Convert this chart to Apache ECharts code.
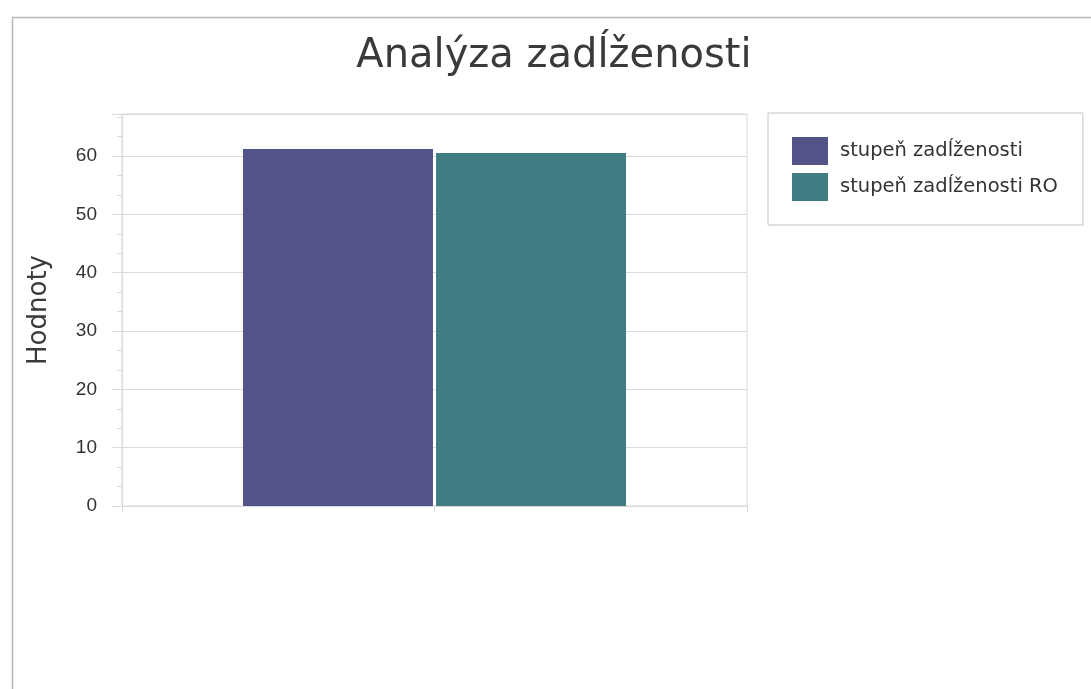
<!DOCTYPE html>
<html>
<head>
<meta charset="utf-8">
<script src="https://cdn.jsdelivr.net/npm/echarts@6/dist/echarts.min.js"></script>
<style>
  html, body { margin: 0; padding: 0; background: #fff; }
  #c_container { width: 1091px; height: 689px; }
</style>
</head>
<body>
<div id="c_container"></div>
<script>
var categories = [""];
var series_names = ["stupeň zadĺženosti", "stupeň zadĺženosti RO"];
var debt_ratio = [61.2];
var debt_ratio_ro = [60.5];
var colorList = ["#525386", "#407d82"];
var font_size = 19;

var myChart = echarts.init(document.getElementById("c_container"));

myChart.setOption({
  animation: false,
  color: colorList,
  title: {
    text: "Analýza zadĺženosti",
    left: 549,
    top: 32,
    textAlign: "center",
    textStyle: {
      fontFamily: "DejaVu Sans",
      fontSize: 40,
      fontWeight: "normal",
      color: "#3a3a3a",
    },
  },
  graphic: [
    {
      type: "rect",
      left: 10,
      top: 15,
      shape: { width: 1200, height: 800 },
      style: { fill: "none", stroke: "#b8b8b8", lineWidth: 1.5 },
      silent: true,
    },
  ],
  legend: {
    data: series_names,
    orient: "vertical",
    left: 768,
    top: 113,
    padding: [24, 25, 24, 24],
    itemGap: 8,
    itemWidth: 36,
    itemHeight: 28,
    borderColor: "#c4c4c4",
    borderWidth: 1,
    icon: "rect",
    textStyle: {
      fontFamily: "DejaVu Sans",
      fontSize: 19.5,
      color: "#333",
      padding: [0, 0, 0, 7],
    },
  },
  grid: {
    left: 122,
    top: 114,
    right: 344,
    bottom: 183,
    show: true,
    borderColor: "#d9d9d9",
    borderWidth: 1,
  },
  xAxis: [
    {
      type: "category",
      data: categories,
      axisLine: { lineStyle: { color: "#d9d9d9" } },
      axisTick: { show: false },
      axisLabel: { show: false },
    },
    {
      // only for the tick marks under the plot
      type: "category",
      position: "bottom",
      data: ["", ""],
      axisLine: { show: false },
      axisTick: { show: true, length: 6, lineStyle: { color: "#d9d9d9" } },
      axisLabel: { show: false },
    },
  ],
  yAxis: [
    {
      type: "value",
      name: "Hodnoty",
      nameLocation: "middle",
      nameGap: 70,
      nameTextStyle: {
        fontFamily: "DejaVu Sans",
        fontSize: 26,
        color: "#3a3a3a",
      },
      min: 0,
      max: 67.2,
      interval: 10,
      axisLine: { show: true, lineStyle: { color: "#d9d9d9" } },
      axisTick: { show: true, length: 10, lineStyle: { color: "#d9d9d9" } },
      minorTick: { show: true, splitNumber: 3, length: 5, lineStyle: { color: "#d9d9d9" } },
      splitLine: { show: true, lineStyle: { color: "#d9d9d9" } },
      axisLabel: {
        showMaxLabel: false,
        margin: 25,
        color: "#333",
        fontFamily: "Liberation Sans",
        fontSize: font_size,
      },
    },
  ],
  series: [
    {
      name: series_names[0],
      type: "bar",
      barWidth: 190,
      barGap: "1.6%",
      data: debt_ratio,
    },
    {
      name: series_names[1],
      type: "bar",
      barWidth: 190,
      barGap: "1.6%",
      data: debt_ratio_ro,
    },
  ],
});
</script>
</body>
</html>
